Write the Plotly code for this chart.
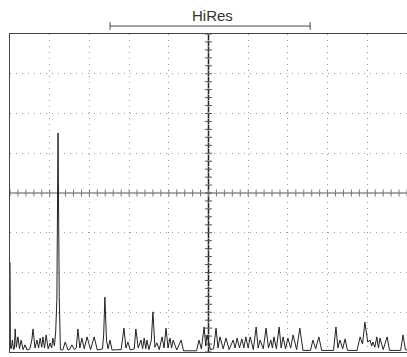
import numpy as np
import plotly.graph_objects as go

# Spectrum trace vertices (frequency in divisions, amplitude in divisions)
freq_div = [
    0.00, 0.01, 0.03, 0.06, 0.09, 0.11, 0.13, 0.16, 0.20, 0.24, 0.28, 0.33, 0.38, 0.43,
    0.50, 0.55, 0.58, 0.63, 0.68, 0.72, 0.76, 0.80, 0.83, 0.87, 0.91, 0.96, 1.01, 1.05,
    1.08, 1.12, 1.15, 1.18, 1.21, 1.24, 1.27, 1.33, 1.39, 1.46, 1.50, 1.56, 1.62,
    1.67, 1.71, 1.76, 1.81, 1.87, 1.94, 2.03, 2.12, 2.20, 2.33, 2.36, 2.39, 2.43, 2.47,
    2.52, 2.57, 2.80, 2.87, 2.92, 2.97, 3.03, 3.13, 3.17, 3.23, 3.30, 3.34, 3.38,
    3.42, 3.45, 3.50, 3.56, 3.60, 3.65, 3.70, 3.76, 3.83, 3.88, 3.93, 3.98, 4.03,
    4.07, 4.11, 4.20, 4.31, 4.37, 4.70, 4.76, 4.82, 4.89, 4.93, 4.96, 5.05, 5.13,
    5.19, 5.24, 5.29, 5.37, 5.44, 5.52, 5.62, 5.67, 5.72, 5.78, 5.84, 5.89, 5.94,
    6.00, 6.05, 6.13, 6.20, 6.25, 6.30, 6.38, 6.45, 6.51, 6.57, 6.61, 6.65, 6.71,
    6.78, 6.83, 6.88, 6.94, 7.00, 7.07, 7.13, 7.22, 7.30, 7.38, 7.57, 7.63, 7.70,
    7.78, 7.85, 8.15, 8.21, 8.26, 8.31, 8.38, 8.44, 8.50, 8.74, 8.82, 8.88, 8.94,
    9.01, 9.07, 9.11, 9.14, 9.19, 9.24, 9.28, 9.32, 9.40, 9.50, 9.56, 9.84, 9.90,
    9.96, 10.00,
]
amp_div = [
    2.26, 0.10, 0.08, 0.30, 0.06, 0.08, 0.58, 0.12, 0.38, 0.08, 0.30, 0.06, 0.18, 0.05,
    0.08, 0.30, 0.58, 0.10, 0.30, 0.10, 0.35, 0.12, 0.38, 0.10, 0.43, 0.08, 0.23, 0.10,
    0.35, 0.15, 0.50, 1.30, 5.51, 1.40, 0.06, 0.05, 0.25, 0.05, 0.06, 0.18, 0.06,
    0.10, 0.58, 0.10, 0.35, 0.08, 0.38, 0.06, 0.38, 0.05, 0.08, 0.45, 1.38, 0.30, 0.08,
    0.30, 0.05, 0.06, 0.60, 0.10, 0.25, 0.05, 0.08, 0.58, 0.10, 0.30, 0.08, 0.35,
    0.08, 0.30, 0.06, 0.30, 1.01, 0.12, 0.23, 0.06, 0.38, 0.10, 0.60, 0.10, 0.35,
    0.10, 0.30, 0.05, 0.30, 0.03, 0.03, 0.30, 0.08, 0.63, 0.15, 0.43, 0.06, 0.08,
    0.60, 0.10, 0.38, 0.08, 0.35, 0.06, 0.30, 0.10, 0.35, 0.10, 0.33, 0.10, 0.38,
    0.10, 0.38, 0.06, 0.63, 0.10, 0.30, 0.08, 0.60, 0.10, 0.30, 0.10, 0.38, 0.08,
    0.63, 0.10, 0.38, 0.08, 0.35, 0.10, 0.43, 0.06, 0.60, 0.04, 0.04, 0.30, 0.08,
    0.38, 0.04, 0.04, 0.63, 0.10, 0.30, 0.08, 0.33, 0.04, 0.04, 0.38, 0.20, 0.75,
    0.25, 0.30, 0.15, 0.25, 0.12, 0.38, 0.10, 0.35, 0.06, 0.38, 0.04, 0.04, 0.43,
    0.06, 0.05,
]

N_XDIV = 10
N_YDIV = 8
MINOR = 0.2

fig = go.Figure()

# center graticule tick marks
xt = np.arange(0, N_XDIV + 1e-9, MINOR)
yt = np.arange(0, N_YDIV + 1e-9, MINOR)
fig.add_trace(go.Scatter(x=xt, y=[N_YDIV / 2] * len(xt), mode="markers",
                         marker=dict(symbol="line-ns-open", size=5, color="#777",
                                     line=dict(color="#777", width=1)),
                         hoverinfo="skip", showlegend=False))
fig.add_trace(go.Scatter(x=[N_XDIV / 2] * len(yt), y=yt, mode="markers",
                         marker=dict(symbol="line-ew-open", size=5, color="#555",
                                     line=dict(color="#555", width=1)),
                         hoverinfo="skip", showlegend=False))

fig.add_trace(go.Scatter(x=freq_div, y=amp_div, mode="lines",
                         line=dict(color="#222", width=1), showlegend=False))

# center axes
fig.add_shape(type="line", x0=N_XDIV / 2, x1=N_XDIV / 2, y0=0, y1=N_YDIV,
              line=dict(color="#222", width=1.5), layer="below")
fig.add_shape(type="line", x0=0, x1=N_XDIV, y0=N_YDIV / 2, y1=N_YDIV / 2,
              line=dict(color="#555", width=1), layer="below")

# HiRes bracket
br_y = 1.025
fig.add_shape(type="line", xref="paper", yref="paper", x0=0.252, x1=0.756, y0=br_y, y1=br_y,
              line=dict(color="#444", width=1))
for xb in (0.252, 0.756):
    fig.add_shape(type="line", xref="paper", yref="paper", x0=xb, x1=xb, y0=br_y - 0.012, y1=br_y + 0.012,
                  line=dict(color="#444", width=1))
fig.add_annotation(text="HiRes", xref="paper", yref="paper", x=0.509, y=1.059,
                   xanchor="center", yanchor="middle",
                   showarrow=False, font=dict(family="Liberation Sans", size=15, color="#333"))

fig.update_xaxes(range=[0, N_XDIV], tickvals=list(range(N_XDIV)), showticklabels=False,
                 showgrid=True, gridcolor="#999", griddash="1px,5px", gridwidth=1,
                 zeroline=False, showline=True, mirror=True, linecolor="#444", linewidth=1,
                 ticks="")
fig.update_yaxes(range=[0, N_YDIV], dtick=1, showticklabels=False,
                 showgrid=True, gridcolor="#999", griddash="1px,5px", gridwidth=1,
                 zeroline=False, showline=True, mirror=False, linecolor="#444", linewidth=1,
                 ticks="")

fig.update_layout(width=407, height=357, margin=dict(l=10, r=0, t=34, b=5),
                  plot_bgcolor="white", paper_bgcolor="white")

fig.write_html("out.html", config={"displayModeBar": False},
               post_script="document.body.style.margin='0';document.body.style.padding='0';")
